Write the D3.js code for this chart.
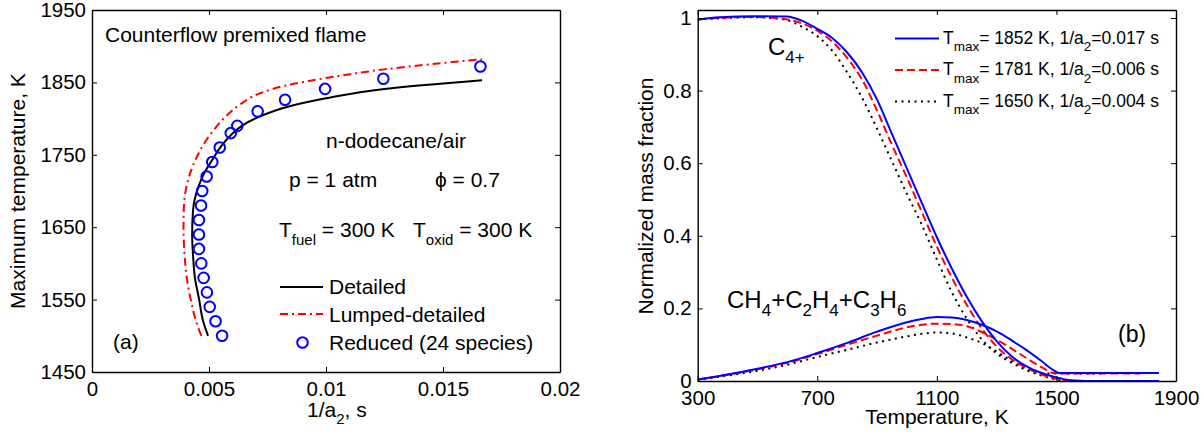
<!DOCTYPE html>
<html>
<head>
<meta charset="utf-8">
<script src="https://cdn.jsdelivr.net/npm/d3@7"></script>
<style>
  body { margin: 0; background: #fff; }
  svg text { font-family: "Liberation Sans", Arial, sans-serif; fill: #000; }
</style>
</head>
<body>
<div id="chart"></div>
<script>
// ---- panel (a) data: [1/a2 (s), Tmax (K)]
const detailed = [[0.00496,1500],[0.00475,1520],[0.00458,1550],[0.00440,1580],[0.00432,1610],[0.00428,1640],
  [0.00432,1674],[0.00455,1706],[0.00480,1725],[0.00512,1742],[0.00550,1761],[0.00593,1777],[0.00640,1790],
  [0.00718,1803],[0.00833,1816],[0.0100,1828],[0.0125,1841],[0.01667,1853]]
const lumped = [[0.00467,1500],[0.00440,1525],[0.00422,1550],[0.00405,1580],[0.00396,1610],[0.00391,1650],
  [0.00393,1680],[0.00403,1705],[0.00420,1725],[0.00445,1745],[0.00478,1765],[0.00522,1785],[0.00578,1805],
  [0.00635,1820],[0.00718,1835],[0.00832,1846],[0.0100,1856],[0.0125,1868],[0.01667,1882]]
const reduced = [[0.00556,1500],[0.00528,1520],[0.00503,1540],[0.00491,1560],[0.00477,1580],[0.00467,1600],
  [0.00457,1620],[0.00457,1640],[0.00457,1660],[0.00466,1680],[0.00471,1700],[0.00490,1720],[0.00514,1740],
  [0.00546,1760],[0.00593,1780],[0.00621,1790],[0.00708,1810],[0.00825,1826],[0.00996,1841],[0.01245,1855],[0.0166,1872]]

// ---- panel (b) data: [temperature (K), normalized mass fraction]
const c4Blue = [[300,0.996],[374,1.002],[486,1.005],[598,1.004],[650,0.992],[700,0.970],[750,0.945],[800,0.905],
  [850,0.850],[900,0.775],[950,0.680],[1000,0.585],[1050,0.490],[1100,0.396],[1150,0.310],[1200,0.232],
  [1250,0.165],[1300,0.110],[1350,0.068],[1400,0.040],[1450,0.022],[1500,0.010],[1550,0.002],[1600,0],[1843,0]]
const c4Red = [[300,0.996],[374,1.0],[486,1.003],[560,1.0],[650,0.985],[700,0.965],[750,0.935],[800,0.890],
  [850,0.830],[900,0.745],[950,0.650],[1000,0.560],[1050,0.465],[1100,0.370],[1150,0.285],[1200,0.210],
  [1250,0.145],[1300,0.095],[1350,0.060],[1400,0.036],[1450,0.018],[1500,0.006],[1540,0],[1781,0]]
const c4Black = [[300,0.996],[400,1.0],[486,1.002],[542,1.0],[600,0.994],[650,0.975],[700,0.950],[750,0.910],
  [800,0.850],[850,0.780],[900,0.695],[950,0.605],[1000,0.515],[1050,0.430],[1100,0.335],[1150,0.245],
  [1200,0.172],[1250,0.115],[1300,0.076],[1350,0.050],[1400,0.030],[1450,0.015],[1500,0.004],[1530,0],[1650,0]]
const lightBlue = [[300,0.004],[400,0.018],[500,0.034],[600,0.052],[700,0.077],[800,0.105],[900,0.136],
  [1000,0.162],[1050,0.171],[1100,0.176],[1150,0.175],[1200,0.168],[1250,0.155],[1300,0.137],[1350,0.112],
  [1400,0.085],[1450,0.055],[1490,0.030],[1510,0.022],[1843,0.022]]
const lightRed = [[300,0.004],[400,0.017],[500,0.032],[600,0.050],[700,0.074],[800,0.100],[900,0.125],
  [1000,0.148],[1050,0.155],[1100,0.158],[1150,0.157],[1200,0.151],[1250,0.135],[1300,0.114],[1350,0.089],
  [1400,0.063],[1450,0.038],[1490,0.022],[1510,0.021],[1781,0.021]]
const lightBlack = [[300,0.003],[400,0.015],[500,0.028],[600,0.045],[700,0.066],[800,0.086],[900,0.106],
  [1000,0.123],[1050,0.130],[1100,0.134],[1150,0.131],[1200,0.120],[1250,0.105],[1300,0.081],[1350,0.056],
  [1400,0.034],[1440,0.022],[1470,0.021],[1650,0.021]]

const xTicksA = [0, 0.005, 0.01, 0.015, 0.02]
const yTicksA = [1450, 1550, 1650, 1750, 1850, 1950]
const xTicksB = [300, 700, 1100, 1500, 1900]
const yTicksB = [0, 0.2, 0.4, 0.6, 0.8, 1]

const width = 1204, height = 435

const svg = d3.select('#chart').append('svg')
  .attr('width', width).attr('height', height)

// text with sub-scripts, parts = [[str, isSub], ...]
const label = (g, x, y, parts, size, subSize, shift) => {
  const t = g.append('text').attr('x', x).attr('y', y).style('font-size', size + 'px')
  let offset = 0
  parts.forEach(([s, sub]) => {
    const dy = sub ? shift - offset : -offset
    offset = sub ? shift : 0
    t.append('tspan').text(s)
      .attr('dy', dy)
      .style('font-size', (sub ? subSize : size) + 'px')
  })
  return t
}

const drawAxes = (x, y, xt, yt, fmtX, fmtY) => {
  const [x0, x1] = x.range(), [y0, y1] = y.range()
  const g = svg.append('g')
  g.append('g').attr('transform', `translate(0,${y0})`)
    .call(d3.axisBottom(x).tickValues(xt).tickSize(-5).tickSizeOuter(0).tickPadding(9).tickFormat(fmtX))
  g.append('g').attr('transform', `translate(0,${y1})`)
    .call(d3.axisTop(x).tickValues(xt).tickSize(-5).tickSizeOuter(0).tickFormat(''))
  g.append('g').attr('transform', `translate(${x0},0)`)
    .call(d3.axisLeft(y).tickValues(yt).tickSize(-5).tickSizeOuter(0).tickPadding(6).tickFormat(fmtY))
  g.append('g').attr('transform', `translate(${x1},0)`)
    .call(d3.axisRight(y).tickValues(yt).tickSize(-5).tickSizeOuter(0).tickFormat(''))
  g.selectAll('path.domain').attr('stroke', '#000').attr('stroke-width', 1.4)
  g.selectAll('.tick line').attr('stroke', '#000').attr('stroke-width', 1)
  g.selectAll('.tick text').filter(function () { return this.textContent === '' }).remove()
  g.selectAll('.tick text').attr('font-family', null).style('font-size', '20.5px').attr('fill', '#000')
  return g
}

// ---------------- panel (a)
const xA = d3.scaleLinear().domain([0, 0.02]).range([92, 560])
const yA = d3.scaleLinear().domain([1450, 1950]).range([372, 10])

svg.append('clipPath').attr('id', 'clipA').append('rect')
  .attr('x', 92).attr('y', 10).attr('width', 468).attr('height', 362)

const lineA = d3.line().x(d => xA(d[0])).y(d => yA(d[1])).curve(d3.curveMonotoneY)
const pa = svg.append('g').attr('clip-path', 'url(#clipA)')

pa.append('path').datum(detailed).attr('d', lineA)
  .attr('fill', 'none').attr('stroke', '#000').attr('stroke-width', 2)
pa.append('path').datum(lumped).attr('d', lineA)
  .attr('fill', 'none').attr('stroke', '#ff0000').attr('stroke-width', 2).attr('stroke-dasharray', '8,4,2,4')
pa.selectAll('circle').data(reduced).enter().append('circle')
  .attr('cx', d => xA(d[0])).attr('cy', d => yA(d[1])).attr('r', 5.3)
  .attr('fill', 'none').attr('stroke', '#0000ff').attr('stroke-width', 2)

drawAxes(xA, yA, xTicksA, yTicksA, d3.format('~g'), d3.format('d'))

const ta = svg.append('g')
label(ta, 105, 42, [['Counterflow premixed flame']], 21)
label(ta, 326, 148, [['n-dodecane/air']], 21)
label(ta, 289, 187, [['p = 1 atm']], 21)
label(ta, 435, 187, [['\u03d5 = 0.7']], 21)
label(ta, 279, 237, [['T'], ['fuel', true], [' = 300 K']], 21, 15, 8)
label(ta, 413, 237, [['T'], ['oxid', true], [' = 300 K']], 21, 15, 8)
label(ta, 113, 349, [['(a)']], 21)

// legend (a)
ta.append('line').attr('x1', 280).attr('x2', 323).attr('y1', 287).attr('y2', 287)
  .attr('stroke', '#000').attr('stroke-width', 2)
ta.append('line').attr('x1', 280).attr('x2', 323).attr('y1', 314).attr('y2', 314)
  .attr('stroke', '#ff0000').attr('stroke-width', 2).attr('stroke-dasharray', '8,4,2,4')
ta.append('circle').attr('cx', 302.5).attr('cy', 342.5).attr('r', 5.3)
  .attr('fill', 'none').attr('stroke', '#0000ff').attr('stroke-width', 2)
label(ta, 329, 294, [['Detailed']], 21)
label(ta, 329, 321.5, [['Lumped-detailed']], 21)
label(ta, 329, 349.5, [['Reduced (24 species)']], 21)

label(ta, 0, 0, [['Maximum temperature, K']], 21)
  .attr('text-anchor', 'middle').attr('transform', 'translate(25,191) rotate(-90)')
label(ta, 307, 417, [['1/a'], ['2', true], [', s']], 21, 15, 7)

// ---------------- panel (b)
const xB = d3.scaleLinear().domain([300, 1900]).range([697.7, 1176])
const yB = d3.scaleLinear().domain([0, 1.022]).range([381, 10])

svg.append('clipPath').attr('id', 'clipB').append('rect')
  .attr('x', 697.7).attr('y', 10).attr('width', 478.3).attr('height', 371)

const lineB = d3.line().x(d => xB(d[0])).y(d => yB(d[1])).curve(d3.curveMonotoneX)
const pb = svg.append('g').attr('clip-path', 'url(#clipB)')

const styles = [
  { c4: c4Black, light: lightBlack, color: '#000', dash: '2,4.5' },
  { c4: c4Red, light: lightRed, color: '#ff0000', dash: '8,4' },
  { c4: c4Blue, light: lightBlue, color: '#0000ff', dash: null }
]
styles.forEach(s => {
  [s.c4, s.light].forEach(data => {
    pb.append('path').datum(data).attr('d', lineB)
      .attr('fill', 'none').attr('stroke', s.color).attr('stroke-width', 2)
      .attr('stroke-dasharray', s.dash)
  })
})

drawAxes(xB, yB, xTicksB, yTicksB, d3.format('d'), d3.format('~g'))

const tb = svg.append('g')
label(tb, 768, 55, [['C'], ['4+', true]], 24, 17, 8)
label(tb, 727, 308, [['CH'], ['4', true], ['+C'], ['2', true], ['H'], ['4', true], ['+C'], ['3', true], ['H'], ['6', true]], 24, 17, 8)
label(tb, 1118, 342, [['(b)']], 23)

// legend (b)
const legB = [
  { color: '#0000ff', dash: null, t: '1852', a: '0.017', y: 38.5 },
  { color: '#ff0000', dash: '8,4', t: '1781', a: '0.006', y: 70 },
  { color: '#000', dash: '2,4.5', t: '1650', a: '0.004', y: 101.5 }
]
legB.forEach(d => {
  tb.append('line').attr('x1', 895).attr('x2', 939).attr('y1', d.y).attr('y2', d.y)
    .attr('stroke', d.color).attr('stroke-width', 2).attr('stroke-dasharray', d.dash)
  label(tb, 943, d.y + 5, [['T'], ['max', true], [`= ${d.t} K, 1/a`], ['2', true], [`=${d.a} s`]], 17.5, 13.5, 7.5)
})

label(tb, 0, 0, [['Normalized mass fraction']], 21)
  .attr('text-anchor', 'middle').attr('transform', 'translate(653,196) rotate(-90)')
label(tb, 937, 424, [['Temperature, K']], 21).attr('text-anchor', 'middle')
</script>
</body>
</html>
